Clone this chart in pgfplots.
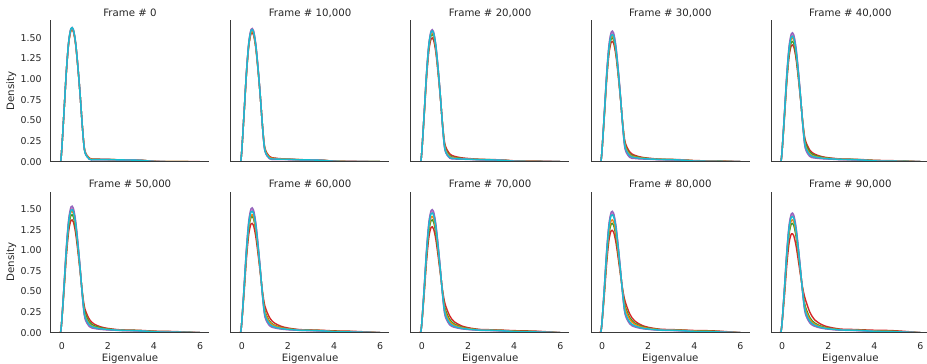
\documentclass[border=0pt]{standalone}
\usepackage{fontspec}
\setmainfont{DejaVu Sans}
\usepackage{pgfplots}
\usepackage{pgfplotstable}
\pgfplotsset{compat=1.18}

\definecolor{txt}{HTML}{262626}
\definecolor{axcol}{HTML}{3A3A3A}
\definecolor{tabblue}{HTML}{1F77B4}
\definecolor{taborange}{HTML}{FF7F0E}
\definecolor{tabgreen}{HTML}{2CA02C}
\definecolor{tabred}{HTML}{D62728}
\definecolor{tabpurple}{HTML}{9467BD}
\definecolor{tabbrown}{HTML}{8C564B}
\definecolor{tabpink}{HTML}{E377C2}
\definecolor{tabgray}{HTML}{7F7F7F}
\definecolor{tabolive}{HTML}{BCBD22}
\definecolor{tabcyan}{HTML}{17BECF}

% Density curves (estimated KDE of eigenvalues), one column per curve family
\pgfplotstableread{
x     t00   t03   t06   t10   t15   t20   t25   t30   t35   t40   t45   t50   t60   t70   t80   t90   t100
-0.1  0     0     0     0     0     0     0     0     0     0     0     0     0     0     0     0     0
-0.05 0     0.001 0.001 0.002 0.003 0.004 0.005 0.006 0.007 0.008 0.009 0.010 0.012 0.014 0.016 0.018 0.020
0.0   0.150 0.149 0.149 0.148 0.147 0.146 0.145 0.144 0.143 0.142 0.141 0.140 0.138 0.136 0.134 0.132 0.130
0.1   0.620 0.615 0.610 0.603 0.595 0.586 0.578 0.569 0.561 0.552 0.544 0.535 0.518 0.501 0.484 0.467 0.450
0.2   1.100 1.092 1.083 1.072 1.058 1.044 1.030 1.016 1.002 0.988 0.974 0.960 0.932 0.904 0.876 0.848 0.820
0.3   1.450 1.439 1.428 1.414 1.396 1.378 1.360 1.342 1.324 1.306 1.288 1.270 1.234 1.198 1.162 1.126 1.090
0.4   1.610 1.598 1.585 1.569 1.549 1.528 1.508 1.487 1.467 1.446 1.426 1.405 1.364 1.323 1.282 1.241 1.200
0.5   1.600 1.587 1.575 1.558 1.537 1.516 1.495 1.474 1.453 1.432 1.411 1.390 1.348 1.306 1.264 1.222 1.180
0.6   1.440 1.429 1.417 1.402 1.383 1.364 1.345 1.326 1.307 1.288 1.269 1.250 1.212 1.174 1.136 1.098 1.060
0.7   1.150 1.142 1.134 1.123 1.110 1.096 1.083 1.069 1.056 1.042 1.029 1.015 0.988 0.961 0.934 0.907 0.880
0.8   0.800 0.797 0.793 0.789 0.784 0.778 0.773 0.767 0.762 0.756 0.751 0.745 0.734 0.723 0.712 0.701 0.690
0.9   0.400 0.404 0.408 0.413 0.420 0.426 0.433 0.439 0.446 0.452 0.459 0.465 0.478 0.491 0.504 0.517 0.530
1.0   0.120 0.129 0.137 0.149 0.164 0.178 0.193 0.207 0.222 0.236 0.251 0.265 0.294 0.323 0.352 0.381 0.410
1.2   0.030 0.037 0.043 0.052 0.063 0.074 0.085 0.096 0.107 0.118 0.129 0.140 0.162 0.184 0.206 0.228 0.250
1.4   0.025 0.029 0.033 0.039 0.045 0.052 0.059 0.066 0.072 0.079 0.086 0.093 0.106 0.120 0.133 0.147 0.160
1.7   0.025 0.027 0.030 0.033 0.036 0.040 0.044 0.048 0.051 0.055 0.059 0.063 0.070 0.078 0.085 0.093 0.100
2.0   0.025 0.026 0.028 0.030 0.032 0.034 0.036 0.039 0.041 0.043 0.045 0.048 0.052 0.057 0.061 0.066 0.070
2.5   0.022 0.023 0.023 0.024 0.025 0.027 0.028 0.029 0.030 0.031 0.032 0.034 0.036 0.038 0.040 0.043 0.045
3.0   0.020 0.021 0.021 0.022 0.023 0.024 0.025 0.026 0.027 0.028 0.029 0.030 0.032 0.034 0.036 0.038 0.040
3.5   0.015 0.016 0.016 0.017 0.018 0.019 0.020 0.021 0.022 0.023 0.024 0.025 0.027 0.029 0.031 0.033 0.035
4.0   0.003 0.004 0.005 0.006 0.007 0.008 0.010 0.011 0.012 0.014 0.015 0.017 0.019 0.022 0.025 0.027 0.030
4.5   0     0.001 0.002 0.003 0.004 0.006 0.007 0.008 0.010 0.011 0.013 0.014 0.017 0.020 0.022 0.025 0.028
5.0   0     0.001 0.001 0.002 0.003 0.004 0.006 0.007 0.008 0.009 0.010 0.011 0.013 0.015 0.018 0.020 0.022
5.5   0     0     0.001 0.001 0.002 0.002 0.003 0.004 0.004 0.005 0.005 0.006 0.007 0.008 0.010 0.011 0.012
6.0   0     0     0     0     0     0     0     0     0     0     0     0     0     0     0     0     0
}\curves

\pgfplotsset{
  panel/.style={
    scale only axis, width=158.6pt, anchor=south west,
    xmin=-0.48, xmax=6.40, ymin=0, ymax=1.713,
    axis x line*=bottom, axis y line*=left,
    axis line style={-, draw=axcol, line width=1pt},
    major tick length=0pt,
    xtick={0,2,4,6}, ytick={0,0.25,0.5,0.75,1,1.25,1.5},
    axis on top,
    /pgf/number format/assume math mode=true,
    tick label style={font=\fontsize{9.4}{11}\selectfont, text=txt},
    yticklabel style={/pgf/number format/.cd, fixed, fixed zerofill, precision=2, assume math mode=true,
      /tikz/.cd, inner sep=0pt, anchor=east, xshift=-9pt},
    xticklabel style={inner sep=0pt, anchor=north, yshift=-9.7pt},
    every axis plot/.append style={line width=1.4pt, no markers, smooth, tension=0.5},
  },
  notx/.style={xticklabels={}},
  noty/.style={yticklabels={}},
}

\newcommand{\curveset}[6]{%
  \addplot[tabred]    table[x=x,y=#6]{\curves};
  \addplot[tabgreen]  table[x=x,y=#5]{\curves};
  \addplot[taborange] table[x=x,y=#4]{\curves};
  \addplot[tabpink]   table[x=x,y=#2]{\curves};
  \addplot[tabpurple] table[x=x,y=#1]{\curves};
  \addplot[tabcyan]   table[x=x,y=#3]{\curves};
}

\begin{document}
\begin{tikzpicture}
\useasboundingbox (0,0) rectangle (927pt,-364pt);

% ---------- top row ----------
\begin{axis}[panel, notx, at={(50.7pt,-161.7pt)}, height=141.7pt]
\curveset{t00}{t00}{t00}{t03}{t03}{t06}
\end{axis}
\begin{axis}[panel, notx, noty, at={(230.8pt,-161.7pt)}, height=141.7pt]
\curveset{t03}{t03}{t06}{t10}{t10}{t15}
\end{axis}
\begin{axis}[panel, notx, noty, at={(410.9pt,-161.7pt)}, height=141.7pt]
\curveset{t06}{t10}{t10}{t15}{t20}{t30}
\end{axis}
\begin{axis}[panel, notx, noty, at={(591.0pt,-161.7pt)}, height=141.7pt]
\curveset{t10}{t15}{t20}{t25}{t30}{t40}
\end{axis}
\begin{axis}[panel, notx, noty, at={(771.1pt,-161.7pt)}, height=141.7pt]
\curveset{t15}{t20}{t25}{t30}{t40}{t50}
\end{axis}

% ---------- bottom row ----------
\begin{axis}[panel, at={(50.7pt,-332.7pt)}, height=141.0pt]
\curveset{t20}{t25}{t30}{t35}{t45}{t60}
\end{axis}
\begin{axis}[panel, noty, at={(230.8pt,-332.7pt)}, height=141.0pt]
\curveset{t25}{t30}{t35}{t45}{t50}{t70}
\end{axis}
\begin{axis}[panel, noty, at={(410.9pt,-332.7pt)}, height=141.0pt]
\curveset{t30}{t35}{t40}{t50}{t60}{t80}
\end{axis}
\begin{axis}[panel, noty, at={(591.0pt,-332.7pt)}, height=141.0pt]
\curveset{t35}{t40}{t45}{t60}{t70}{t90}
\end{axis}
\begin{axis}[panel, noty, at={(771.1pt,-332.7pt)}, height=141.0pt]
\curveset{t40}{t45}{t50}{t60}{t70}{t100}
\end{axis}

% ---------- titles and labels ----------
\tikzset{lab/.style={font=\fontsize{10.2}{12}\selectfont, text=txt, inner sep=0pt}}
\node[lab, anchor=base] at (130.0pt,-16.4pt) {Frame \# 0};
\node[lab, anchor=base] at (310.1pt,-16.4pt) {Frame \# 10,000};
\node[lab, anchor=base] at (490.2pt,-16.4pt) {Frame \# 20,000};
\node[lab, anchor=base] at (670.3pt,-16.4pt) {Frame \# 30,000};
\node[lab, anchor=base] at (850.4pt,-16.4pt) {Frame \# 40,000};
\node[lab, anchor=base] at (130.0pt,-187.6pt) {Frame \# 50,000};
\node[lab, anchor=base] at (310.1pt,-187.6pt) {Frame \# 60,000};
\node[lab, anchor=base] at (490.2pt,-187.6pt) {Frame \# 70,000};
\node[lab, anchor=base] at (670.3pt,-187.6pt) {Frame \# 80,000};
\node[lab, anchor=base] at (850.4pt,-187.6pt) {Frame \# 90,000};

\foreach \cx in {130.0,310.1,490.2,670.3,850.4}
  \node[lab, anchor=base] at (\cx pt,-361.7pt) {Eigenvalue};

\node[lab, anchor=base, rotate=90] at (14.0pt,-90.9pt) {Density};
\node[lab, anchor=base, rotate=90] at (14.0pt,-262.2pt) {Density};
\end{tikzpicture}
\end{document}
